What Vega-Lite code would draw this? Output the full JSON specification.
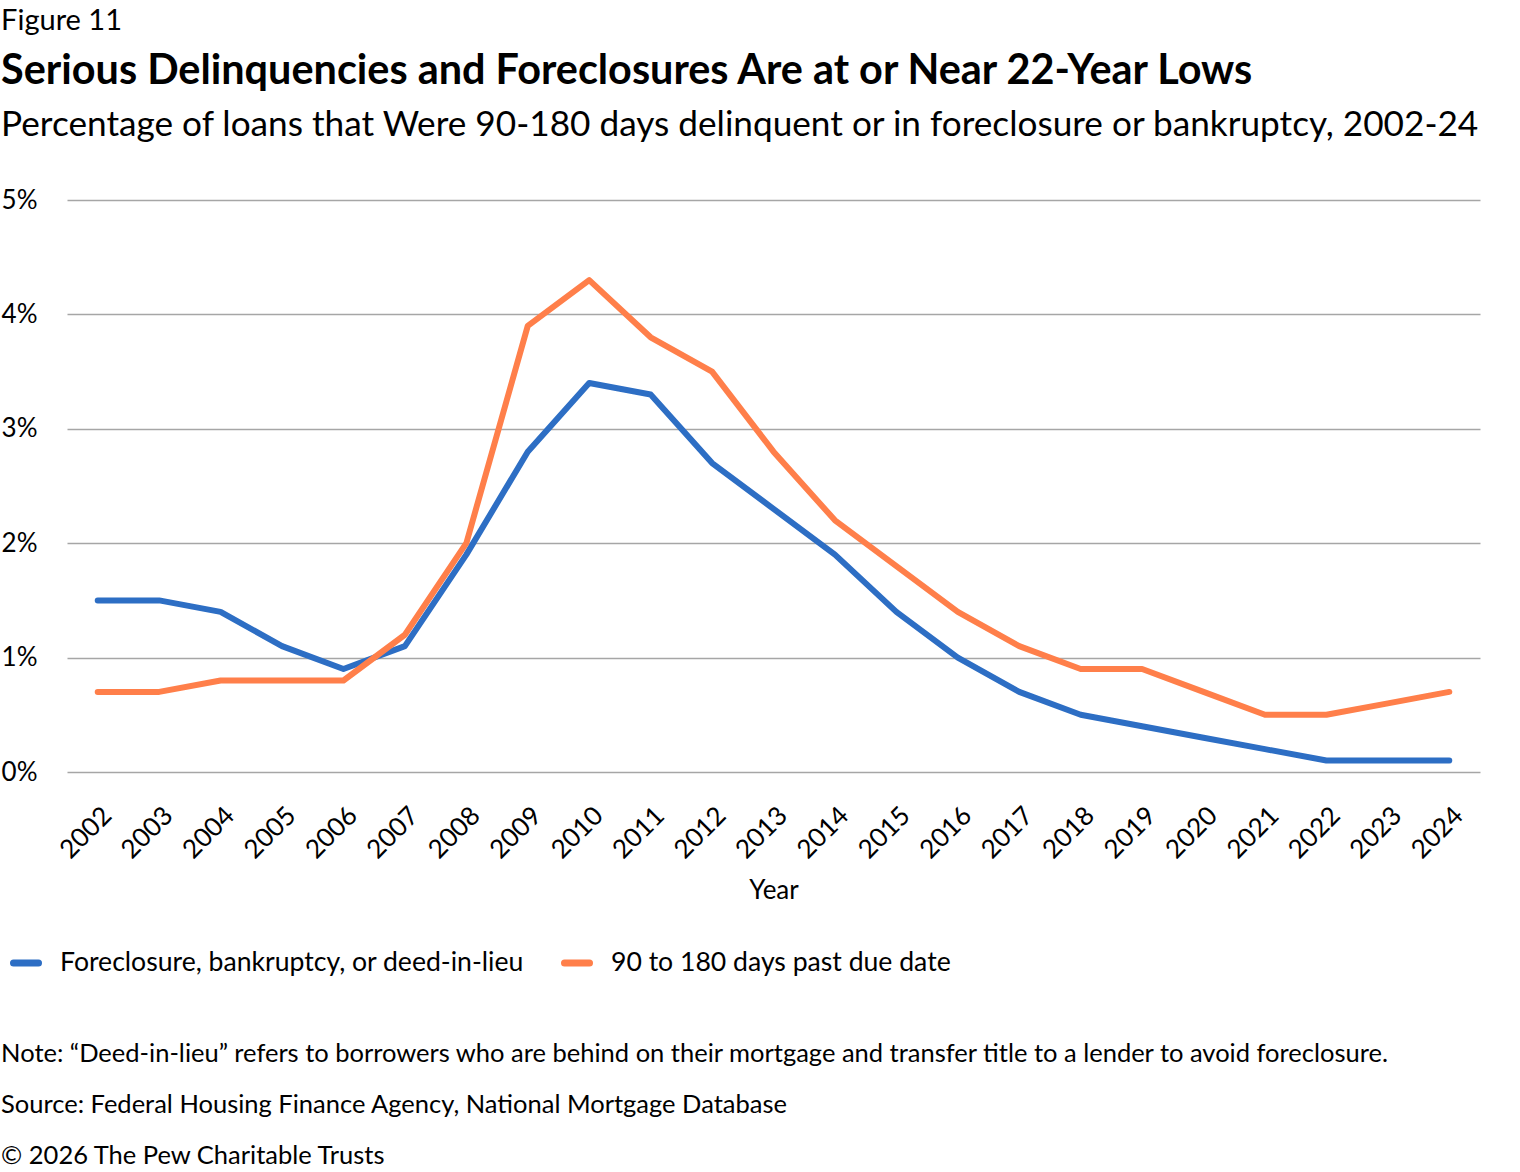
{
  "$schema": "https://vega.github.io/schema/vega-lite/v6.json",
  "background": "white",
  "padding": {"left": 1, "top": 7, "right": 5, "bottom": 0},
  "title": {
    "text": [
      "Note: “Deed-in-lieu” refers to borrowers who are behind on their mortgage and transfer title to a lender to avoid foreclosure.",
      "Source: Federal Housing Finance Agency, National Mortgage Database",
      "© 2026 The Pew Charitable Trusts"
    ],
    "orient": "bottom",
    "anchor": "start",
    "frame": "bounds",
    "fontSize": 25.5,
    "fontWeight": "normal",
    "lineHeight": 51,
    "offset": 65
  },
  "vconcat": [
    {
      "title": {
        "text": "Figure 11",
        "anchor": "start",
        "frame": "bounds",
        "fontSize": 29,
        "fontWeight": "normal",
        "offset": 15
      },
      "vconcat": [
        {
          "width": 1413,
          "height": 572,
          "title": {
            "text": "Serious Delinquencies and Foreclosures Are at or Near 22-Year Lows",
            "subtitle": "Percentage of loans that Were 90-180 days delinquent or in foreclosure or bankruptcy, 2002-24",
            "anchor": "start",
            "frame": "bounds",
            "fontSize": 41.4,
            "fontWeight": "bold",
            "subtitleFontSize": 35.2,
            "subtitleColor": "black",
            "subtitleFont": "Lato",
            "subtitlePadding": 15,
            "offset": 44
          },
          "data": {
            "values": [
              {"year": "2002", "series": "Foreclosure, bankruptcy, or deed-in-lieu", "value": 1.5},
              {"year": "2003", "series": "Foreclosure, bankruptcy, or deed-in-lieu", "value": 1.5},
              {"year": "2004", "series": "Foreclosure, bankruptcy, or deed-in-lieu", "value": 1.4},
              {"year": "2005", "series": "Foreclosure, bankruptcy, or deed-in-lieu", "value": 1.1},
              {"year": "2006", "series": "Foreclosure, bankruptcy, or deed-in-lieu", "value": 0.9},
              {"year": "2007", "series": "Foreclosure, bankruptcy, or deed-in-lieu", "value": 1.1},
              {"year": "2008", "series": "Foreclosure, bankruptcy, or deed-in-lieu", "value": 1.9},
              {"year": "2009", "series": "Foreclosure, bankruptcy, or deed-in-lieu", "value": 2.8},
              {"year": "2010", "series": "Foreclosure, bankruptcy, or deed-in-lieu", "value": 3.4},
              {"year": "2011", "series": "Foreclosure, bankruptcy, or deed-in-lieu", "value": 3.3},
              {"year": "2012", "series": "Foreclosure, bankruptcy, or deed-in-lieu", "value": 2.7},
              {"year": "2013", "series": "Foreclosure, bankruptcy, or deed-in-lieu", "value": 2.3},
              {"year": "2014", "series": "Foreclosure, bankruptcy, or deed-in-lieu", "value": 1.9},
              {"year": "2015", "series": "Foreclosure, bankruptcy, or deed-in-lieu", "value": 1.4},
              {"year": "2016", "series": "Foreclosure, bankruptcy, or deed-in-lieu", "value": 1.0},
              {"year": "2017", "series": "Foreclosure, bankruptcy, or deed-in-lieu", "value": 0.7},
              {"year": "2018", "series": "Foreclosure, bankruptcy, or deed-in-lieu", "value": 0.5},
              {"year": "2019", "series": "Foreclosure, bankruptcy, or deed-in-lieu", "value": 0.4},
              {"year": "2020", "series": "Foreclosure, bankruptcy, or deed-in-lieu", "value": 0.3},
              {"year": "2021", "series": "Foreclosure, bankruptcy, or deed-in-lieu", "value": 0.2},
              {"year": "2022", "series": "Foreclosure, bankruptcy, or deed-in-lieu", "value": 0.1},
              {"year": "2023", "series": "Foreclosure, bankruptcy, or deed-in-lieu", "value": 0.1},
              {"year": "2024", "series": "Foreclosure, bankruptcy, or deed-in-lieu", "value": 0.1},
              {"year": "2002", "series": "90 to 180 days past due date", "value": 0.7},
              {"year": "2003", "series": "90 to 180 days past due date", "value": 0.7},
              {"year": "2004", "series": "90 to 180 days past due date", "value": 0.8},
              {"year": "2005", "series": "90 to 180 days past due date", "value": 0.8},
              {"year": "2006", "series": "90 to 180 days past due date", "value": 0.8},
              {"year": "2007", "series": "90 to 180 days past due date", "value": 1.2},
              {"year": "2008", "series": "90 to 180 days past due date", "value": 2.0},
              {"year": "2009", "series": "90 to 180 days past due date", "value": 3.9},
              {"year": "2010", "series": "90 to 180 days past due date", "value": 4.3},
              {"year": "2011", "series": "90 to 180 days past due date", "value": 3.8},
              {"year": "2012", "series": "90 to 180 days past due date", "value": 3.5},
              {"year": "2013", "series": "90 to 180 days past due date", "value": 2.8},
              {"year": "2014", "series": "90 to 180 days past due date", "value": 2.2},
              {"year": "2015", "series": "90 to 180 days past due date", "value": 1.8},
              {"year": "2016", "series": "90 to 180 days past due date", "value": 1.4},
              {"year": "2017", "series": "90 to 180 days past due date", "value": 1.1},
              {"year": "2018", "series": "90 to 180 days past due date", "value": 0.9},
              {"year": "2019", "series": "90 to 180 days past due date", "value": 0.9},
              {"year": "2020", "series": "90 to 180 days past due date", "value": 0.7},
              {"year": "2021", "series": "90 to 180 days past due date", "value": 0.5},
              {"year": "2022", "series": "90 to 180 days past due date", "value": 0.5},
              {"year": "2023", "series": "90 to 180 days past due date", "value": 0.6},
              {"year": "2024", "series": "90 to 180 days past due date", "value": 0.7}
            ]
          },
          "mark": {"type": "line", "strokeWidth": 6, "strokeCap": "round", "strokeJoin": "round"},
          "encoding": {
            "x": {
              "field": "year",
              "type": "ordinal",
              "axis": {
                "title": "Year",
                "labelAngle": -45,
                "labelPadding": 30,
                "labelDx": -13,
                "labelDy": -5,
                "titlePadding": 14,
                "domain": false,
                "ticks": false
              }
            },
            "y": {
              "field": "value",
              "type": "quantitative",
              "scale": {"domain": [0, 5]},
              "axis": {
                "title": null,
                "values": [0, 1, 2, 3, 4, 5],
                "labelExpr": "datum.value + '%'",
                "labelPadding": 30,
                "domain": false,
                "ticks": false,
                "grid": true
              }
            },
            "color": {
              "field": "series",
              "type": "nominal",
              "scale": {
                "domain": ["Foreclosure, bankruptcy, or deed-in-lieu", "90 to 180 days past due date"],
                "range": ["#2d6ec4", "#ff7f4a"]
              },
              "legend": {
                "title": null,
                "orient": "none",
                "direction": "horizontal",
                "legendX": -57,
                "legendY": 747,
                "symbolType": "stroke",
                "symbolSize": 625,
                "symbolStrokeWidth": 7,
                "labelOffset": 18,
                "columnPadding": 26,
                "encode": {"symbols": {"update": {"strokeCap": {"value": "round"}}}}
              }
            }
          }
        }
      ]
    }
  ],
  "config": {
    "font": "Lato",
    "view": {"stroke": null},
    "title": {"color": "black", "font": "Lato"},
    "axis": {
      "labelFont": "Lato",
      "labelFontSize": 26,
      "labelColor": "black",
      "titleFont": "Lato",
      "titleFontSize": 26,
      "titleFontWeight": "normal",
      "titleColor": "black",
      "gridColor": "#a6a6a6",
      "gridWidth": 1.5
    },
    "legend": {
      "labelFont": "Lato",
      "labelFontSize": 26.6,
      "labelColor": "black",
      "labelLimit": 800
    }
  }
}
